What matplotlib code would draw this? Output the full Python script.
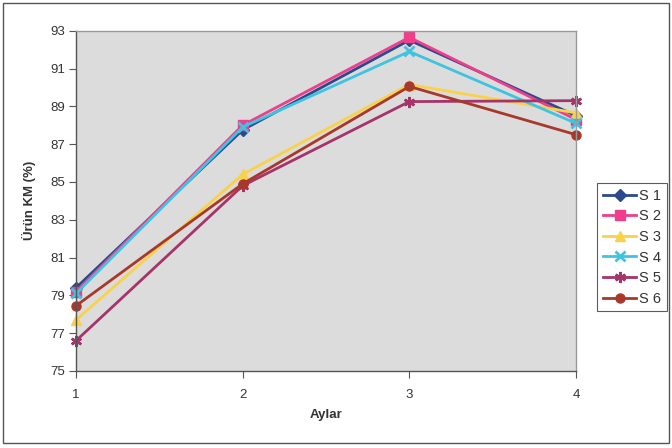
import matplotlib
matplotlib.use("Agg")
import matplotlib.pyplot as plt
from matplotlib.patches import Rectangle

plt.rcParams['font.family'] = ['Liberation Sans', 'DejaVu Sans']

months = [1, 2, 3, 4]
s1 = [79.4, 87.75, 92.5, 88.5]
s2 = [79.2, 88.0, 92.65, 88.3]
s3 = [77.7, 85.4, 90.15, 88.65]
s4 = [79.1, 87.9, 91.9, 88.1]
s5 = [76.6, 84.8, 89.25, 89.3]
s6 = [78.45, 84.9, 90.05, 87.5]
series_names = ["S 1", "S 2", "S 3", "S 4", "S 5", "S 6"]
yticks = [75, 77, 79, 81, 83, 85, 87, 89, 91, 93]

styles = [
    dict(color="#2B4A8B", marker="D", ms=6),
    dict(color="#EE3E8C", marker="s", ms=6.5),
    dict(color="#F8D34A", marker="^", ms=7),
    dict(color="#3EC4E0", marker="x", ms=7, mew=2),
    dict(color="#A6336A", marker=(6, 2, 0), ms=8, mew=1.8),
    dict(color="#A8382C", marker="o", ms=6.5),
]

fig = plt.figure(figsize=(6.72, 4.48), dpi=100)
ax = fig.add_axes([76 / 672, 1 - 371 / 448, (576 - 76) / 672, (371 - 30.7) / 448])
ax.set_facecolor("#dcdcdc")

for vals, name, st in zip([s1, s2, s3, s4, s5, s6], series_names, styles):
    ax.plot(months, vals, lw=2, label=name, clip_on=False, **st)

ax.set_xlim(1, 4)
ax.set_ylim(75, 93)
ax.set_xticks(months)
ax.set_yticks(yticks)
ax.tick_params(axis="both", labelsize=9.5, color="#555555", labelcolor="#333333")
ax.tick_params(axis="y", length=5, pad=3)
ax.tick_params(axis="x", length=5, pad=8)
for side in ["left", "bottom"]:
    ax.spines[side].set_color("#555555")
    ax.spines[side].set_linewidth(1.0)
for side in ["top", "right"]:
    ax.spines[side].set_color("#9a9a9a")
    ax.spines[side].set_linewidth(1.0)

ax.set_xlabel("Aylar", fontsize=9.5, fontweight="bold", color="#333333", labelpad=6)
ax.set_ylabel("Ürün KM (%)", fontsize=9.5, fontweight="bold", color="#333333", labelpad=10)

leg = fig.legend(loc="upper left", bbox_to_anchor=(597 / 672, 1 - 183 / 448),
                 fontsize=10.5, frameon=True, fancybox=False, handlelength=2.3,
                 handletextpad=0.2, borderpad=0.4, labelspacing=0.45,
                 borderaxespad=0)
leg.get_frame().set_edgecolor("#333333")
leg.get_frame().set_linewidth(0.8)
for t in leg.get_texts():
    t.set_color("#333333")

# outer chart border
fig.patches.append(Rectangle((3 / 672, 1 - 443 / 448), 666 / 672, 440 / 448,
                             transform=fig.transFigure, fill=False,
                             edgecolor="#555555", lw=1.0))

fig.savefig("out.png", dpi=100)
